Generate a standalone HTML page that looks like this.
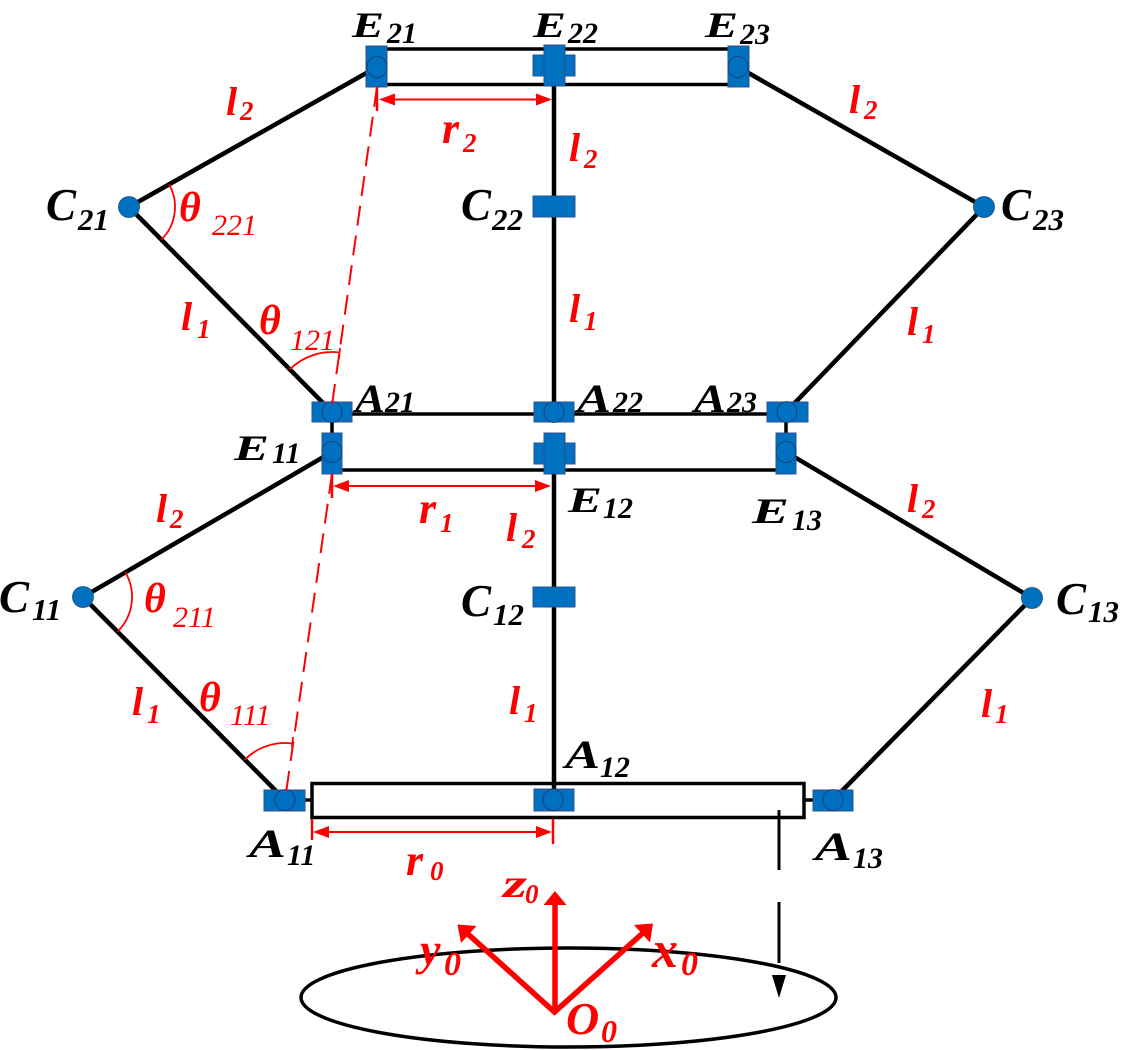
<!DOCTYPE html>
<html><head><meta charset="utf-8"><style>
html,body{margin:0;padding:0;background:#fff;}
svg{display:block;}
.b{font-family:"Liberation Serif",serif;font-style:italic;font-weight:bold;fill:#000;}
.s{font-family:"Liberation Serif",serif;font-style:italic;font-weight:bold;fill:#000;}
.rb{font-family:"Liberation Serif",serif;font-style:italic;font-weight:bold;fill:#ff0000;}
.rs{font-family:"Liberation Serif",serif;font-style:italic;font-weight:normal;fill:#ff0000;}
</style></head><body>
<svg width="1122" height="1050" viewBox="0 0 1122 1050" xmlns="http://www.w3.org/2000/svg">
<rect width="1122" height="1050" fill="#fff"/>

<!-- black links -->
<g stroke="#000" stroke-width="4.5" fill="none" stroke-linecap="round">
  <line x1="377" y1="67" x2="129" y2="207"/>
  <line x1="129" y1="207" x2="332" y2="412"/>
  <line x1="738" y1="67" x2="984" y2="207"/>
  <line x1="984" y1="207" x2="786" y2="412"/>
  <line x1="554" y1="86" x2="554" y2="412"/>
  <line x1="554" y1="474" x2="554" y2="790"/>
  <line x1="332" y1="452" x2="83" y2="597"/>
  <line x1="83" y1="597" x2="285" y2="800"/>
  <line x1="786" y1="452" x2="1032" y2="598"/>
  <line x1="1032" y1="598" x2="833" y2="800"/>
</g>

<!-- frames -->
<g stroke="#000" stroke-width="3.5" fill="none">
  <rect x="377" y="49" width="361" height="35.5"/>
  <rect x="332" y="414" width="454" height="56"/>
  <rect x="312" y="783.5" width="492" height="34"/>
  <line x1="305" y1="800" x2="312" y2="800"/>
  <line x1="804" y1="800" x2="813" y2="800"/>
</g>

<!-- dashed vertical with arrow -->
<g stroke="#000" stroke-width="3" fill="none">
  <line x1="779" y1="810" x2="779" y2="870"/>
  <line x1="779" y1="902" x2="779" y2="963"/>
</g>
<polygon points="772,975 786,975 779,998" fill="#000"/>

<!-- ellipse -->
<ellipse cx="568.5" cy="997.5" rx="267.5" ry="49.5" fill="none" stroke="#000" stroke-width="3.5"/>

<!-- blue blocks -->
<g fill="#0070c0" stroke="#2f528f" stroke-width="1">
  <rect x="366" y="46" width="21" height="41"/>
  <rect x="533" y="55" width="42" height="21"/>
  <rect x="544" y="45" width="21" height="41"/>
  <rect x="728" y="46" width="21" height="41"/>
  <rect x="533" y="196" width="42" height="21"/>
  <rect x="312" y="402" width="40" height="20"/>
  <rect x="534" y="402" width="40" height="20"/>
  <rect x="767" y="402" width="41" height="20"/>
  <rect x="322" y="433" width="20" height="41"/>
  <rect x="534" y="443" width="41" height="21"/>
  <rect x="544" y="433" width="21" height="41"/>
  <rect x="776" y="433" width="20" height="41"/>
  <rect x="533" y="587" width="42" height="20"/>
  <rect x="264" y="790" width="41" height="21"/>
  <rect x="534" y="789" width="40" height="22"/>
  <rect x="813" y="790" width="40" height="21"/>
</g>
<g fill="#0070c0" stroke="#1f3864" stroke-width="0.8">
  <ellipse cx="377" cy="67" rx="10" ry="10.5"/>
  <ellipse cx="738" cy="67" rx="10" ry="10.5"/>
  <ellipse cx="332" cy="412" rx="10" ry="10.5"/>
  <ellipse cx="554" cy="412" rx="10" ry="10.5"/>
  <ellipse cx="787" cy="412" rx="10" ry="10.5"/>
  <ellipse cx="332" cy="452" rx="10" ry="10.5"/>
  <ellipse cx="786" cy="452" rx="10" ry="10.5"/>
  <ellipse cx="285" cy="800" rx="10" ry="10.5"/>
  <ellipse cx="553" cy="800" rx="10" ry="10.5"/>
  <ellipse cx="833" cy="800" rx="10" ry="10.5"/>
</g>
<g fill="#0070c0" stroke="#1f4e79" stroke-width="0.8">
  <circle cx="129" cy="207" r="10.5"/>
  <circle cx="83" cy="597" r="10.5"/>
  <circle cx="984" cy="207" r="10.5"/>
  <circle cx="1032" cy="598" r="10.5"/>
</g>

<!-- red dashed lines, ticks, arcs, dimension arrows -->
<g stroke="#ff0000" fill="none">
  <line x1="377" y1="87" x2="331" y2="412" stroke-width="2" stroke-dasharray="20 10"/>
  <line x1="332" y1="474" x2="285" y2="800" stroke-width="2" stroke-dasharray="20 10"/>
  <line x1="377" y1="87" x2="377" y2="111" stroke-width="2.5"/>
  <line x1="332" y1="474" x2="332" y2="498" stroke-width="2.5"/>
  <line x1="312" y1="819" x2="312" y2="840" stroke-width="2.5"/>
  <line x1="553" y1="819" x2="553" y2="844" stroke-width="2.5"/>
  <path d="M169.1,184.4 A46,46 0 0 1 161.3,239.7" stroke-width="1.8"/>
  <path d="M125.4,572.3 A49,49 0 0 1 117.6,631.6" stroke-width="1.8"/>
  <path d="M289.8,369.4 A60,60 0 0 1 340.2,352.6" stroke-width="1.8"/>
  <path d="M244.7,759.7 A57,57 0 0 1 293.1,743.6" stroke-width="1.8"/>
  <line x1="340" y1="348" x2="339" y2="358" stroke-width="1.8"/>
  <line x1="293" y1="737" x2="292" y2="748" stroke-width="1.8"/>
  <line x1="390" y1="99.5" x2="540" y2="99.5" stroke-width="2"/>
  <line x1="345" y1="486" x2="540" y2="486" stroke-width="2"/>
  <line x1="325" y1="832" x2="540" y2="832" stroke-width="2"/>
</g>
<g fill="#ff0000">
  <polygon points="379,99.5 395,93.5 395,105.5"/>
  <polygon points="552,99.5 536,93.5 536,105.5"/>
  <polygon points="333,486 349,480 349,492"/>
  <polygon points="551,486 535,480 535,492"/>
  <polygon points="313,832 329,826 329,838"/>
  <polygon points="552,832 536,826 536,838"/>
</g>

<!-- coordinate frame -->
<g stroke="#ff0000" stroke-width="5.5" fill="none" stroke-linejoin="miter" stroke-linecap="butt">
  <polyline points="642.1,933.7 554.5,1012 468.4,934.4"/>
  <line x1="555" y1="1010" x2="555" y2="902"/>
</g>
<g fill="#ff0000">
  <polygon points="555,891 543.5,905 566.5,905"/>
  <polygon points="653,923.5 650,942.5 634,925"/>
  <polygon points="457.5,924.5 476.5,926 461,943"/>
</g>

<!-- black labels -->
<text class="b" x="352" y="37" font-size="36" textLength="32" lengthAdjust="spacingAndGlyphs">E</text><text class="s" x="387" y="43" font-size="30">21</text>
<text class="b" x="533" y="37" font-size="36" textLength="33" lengthAdjust="spacingAndGlyphs">E</text><text class="s" x="568" y="43" font-size="30">22</text>
<text class="b" x="705" y="37" font-size="36" textLength="33" lengthAdjust="spacingAndGlyphs">E</text><text class="s" x="740" y="44" font-size="30">23</text>

<text class="b" x="46" y="220" font-size="45">C</text><text class="s" x="78" y="230" font-size="31">21</text>
<text class="b" x="461" y="220" font-size="45">C</text><text class="s" x="492" y="230" font-size="31">22</text>
<text class="b" x="1001" y="220" font-size="45">C</text><text class="s" x="1033" y="230" font-size="31">23</text>

<text class="b" x="355" y="412" font-size="40" textLength="30" lengthAdjust="spacingAndGlyphs">A</text><text class="s" x="385" y="412" font-size="30">21</text>
<text class="b" x="577" y="412" font-size="40" textLength="34" lengthAdjust="spacingAndGlyphs">A</text><text class="s" x="613" y="412" font-size="30">22</text>
<text class="b" x="694" y="412" font-size="40" textLength="32" lengthAdjust="spacingAndGlyphs">A</text><text class="s" x="727" y="412" font-size="30">23</text>

<text class="b" x="234" y="460" font-size="36" textLength="35" lengthAdjust="spacingAndGlyphs">E</text><text class="s" x="272" y="463" font-size="30">11</text>
<text class="b" x="568" y="512" font-size="36" textLength="34" lengthAdjust="spacingAndGlyphs">E</text><text class="s" x="603" y="518" font-size="30">12</text>
<text class="b" x="752" y="523" font-size="36" textLength="37" lengthAdjust="spacingAndGlyphs">E</text><text class="s" x="792" y="530" font-size="30">13</text>

<text class="b" x="-1" y="612" font-size="45">C</text><text class="s" x="32" y="620" font-size="31">11</text>
<text class="b" x="461" y="616" font-size="45">C</text><text class="s" x="493" y="625" font-size="31">12</text>
<text class="b" x="1056" y="614" font-size="45">C</text><text class="s" x="1088" y="622" font-size="31">13</text>

<text class="b" x="249" y="857" font-size="40" textLength="37" lengthAdjust="spacingAndGlyphs">A</text><text class="s" x="287" y="865" font-size="30">11</text>
<text class="b" x="565" y="768" font-size="40" textLength="35" lengthAdjust="spacingAndGlyphs">A</text><text class="s" x="600" y="777" font-size="30">12</text>
<text class="b" x="815" y="860" font-size="40" textLength="37" lengthAdjust="spacingAndGlyphs">A</text><text class="s" x="853" y="868" font-size="30">13</text>

<!-- red labels -->
<text class="rb" x="226" y="115" font-size="40">l</text><text class="rb" x="240" y="120" font-size="27">2</text>
<text class="rb" x="569" y="161" font-size="40">l</text><text class="rb" x="584" y="168" font-size="27">2</text>
<text class="rb" x="849" y="113" font-size="40">l</text><text class="rb" x="864" y="119" font-size="27">2</text>

<text class="rb" x="181" y="330" font-size="40">l</text><text class="rb" x="197" y="338" font-size="27">1</text>
<text class="rb" x="569" y="322" font-size="40">l</text><text class="rb" x="584" y="330" font-size="27">1</text>
<text class="rb" x="907" y="335" font-size="40">l</text><text class="rb" x="922" y="343" font-size="27">1</text>

<text class="rb" x="156" y="522" font-size="40">l</text><text class="rb" x="170" y="528" font-size="27">2</text>
<text class="rb" x="506" y="541" font-size="40">l</text><text class="rb" x="522" y="548" font-size="27">2</text>
<text class="rb" x="907" y="512" font-size="40">l</text><text class="rb" x="922" y="518" font-size="27">2</text>

<text class="rb" x="132" y="715" font-size="40">l</text><text class="rb" x="147" y="723" font-size="27">1</text>
<text class="rb" x="509" y="714" font-size="40">l</text><text class="rb" x="524" y="722" font-size="27">1</text>
<text class="rb" x="981" y="717" font-size="40">l</text><text class="rb" x="995" y="723" font-size="27">1</text>

<text class="rb" x="442" y="143" font-size="44">r</text><text class="rb" x="463" y="152" font-size="27">2</text>
<text class="rb" x="419" y="523" font-size="44">r</text><text class="rb" x="440" y="532" font-size="27">1</text>
<text class="rb" x="406" y="875" font-size="44">r</text><text class="rb" x="430" y="880" font-size="27">0</text>

<text class="rb" x="179" y="221" font-size="42">θ</text><text class="rs" x="212" y="235" font-size="30">221</text>
<text class="rb" x="259" y="334" font-size="42">θ</text><text class="rs" x="290" y="350" font-size="30">121</text>
<text class="rb" x="144" y="612" font-size="42">θ</text><text class="rs" x="173" y="627" font-size="30">211</text>
<text class="rb" x="199" y="711" font-size="42">θ</text><text class="rs" x="230" y="725" font-size="30">111</text>

<text class="rb" x="503" y="897" font-size="40" textLength="24" lengthAdjust="spacingAndGlyphs">z</text><text class="rb" x="525" y="903" font-size="27">0</text>
<text class="rb" x="420" y="965" font-size="46">y</text><text class="rb" x="444" y="975" font-size="34">0</text>
<text class="rb" x="652" y="967" font-size="52">x</text><text class="rb" x="681" y="975" font-size="34">0</text>
<text class="rb" x="566" y="1034" font-size="46">O</text><text class="rb" x="601" y="1042" font-size="32">0</text>
</svg>
</body></html>
